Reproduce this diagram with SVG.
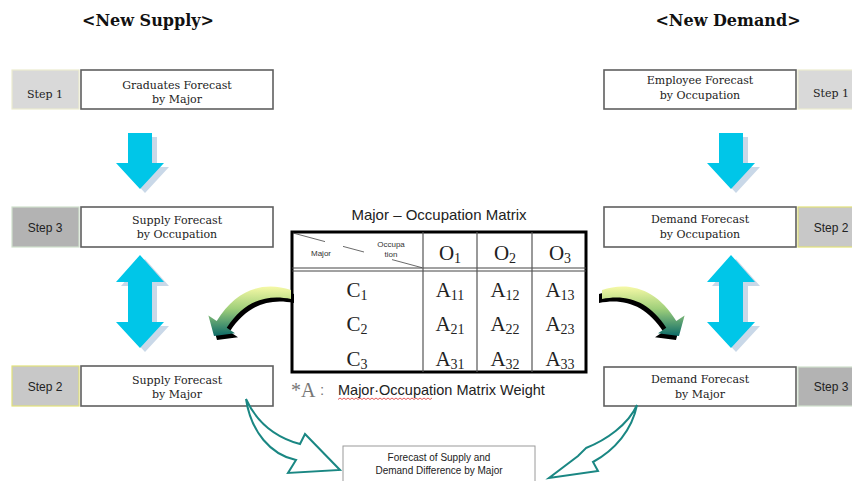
<svg xmlns="http://www.w3.org/2000/svg" width="852" height="481" viewBox="0 0 852 481">
<style>
.title{font-family:"DejaVu Serif",serif;font-weight:bold;font-size:16px;fill:#111}
.box{fill:#fff;stroke:#5f5f5f;stroke-width:1.6}
.lbl{font-family:"DejaVu Serif",serif;font-size:11px;fill:#222;text-anchor:middle}
.stepserif{font-family:"DejaVu Serif",serif;font-size:11px;fill:#222;text-anchor:middle}
.stepsans{font-family:"Liberation Sans",Arial,sans-serif;font-size:12px;fill:#222;text-anchor:middle}
.s1{fill:#d9d9d9;stroke:#ecebcf;stroke-width:1.2}
.s2{fill:#c8c8c8;stroke:#e2e27a;stroke-width:1.2}
.s3{fill:#b3b3b3;stroke:#cfe0cc;stroke-width:1.2}
.blue{fill:#00c6e8}
.bshadow{fill:#c9d8e8}
.mx{font-family:"Liberation Serif","Times New Roman",serif;font-size:21px;fill:#222;text-anchor:middle}
.sub{font-size:14px}
.hd{font-family:"Liberation Sans",Arial,sans-serif;font-size:8px;fill:#333;text-anchor:middle}
.sans{font-family:"Liberation Sans",Arial,sans-serif;fill:#222}
.teal{fill:#fff;stroke:#1a8783;stroke-width:2;stroke-linejoin:miter}
</style>
<defs>
<linearGradient id="grn" x1="0" y1="0" x2="0" y2="1">
<stop offset="0" stop-color="#f6f9a6"/>
<stop offset="0.45" stop-color="#9fcf7a"/>
<stop offset="1" stop-color="#0d6b68"/>
</linearGradient>
<path id="down" d="M0,0 h24 v30 h12 l-24,26 l-24,-26 h12 z"/>
<path id="dbl" d="M12,0 l24,27 h-12 v40 h12 l-24,26 l-24,-26 h12 v-40 h-12 z"/>
<path id="swoosh" d="M291,290 C264,281 236,289 216.7,321.1 L208.4,315.6 L214,336 L235,333.2 L226.7,327.7 C244,301 266,294 291,299 Z"/>
</defs>

<rect width="852" height="481" fill="#fff"/>

<g id="title-supply"><text class="title" x="148" y="26" text-anchor="middle">&lt;New Supply&gt;</text></g>
<g id="title-demand"><text class="title" x="728" y="26" text-anchor="middle">&lt;New Demand&gt;</text></g>

<g id="supply-step1">
<rect class="s1" x="12" y="70" width="67" height="39"/>
<text class="stepserif" x="45" y="98">Step 1</text>
<rect class="box" x="81" y="70" width="192" height="39"/>
<text class="lbl" x="177" y="89">Graduates Forecast</text>
<text class="lbl" x="177" y="103">by Major</text>
</g>
<g id="supply-step3">
<rect class="s3" x="12" y="207" width="67" height="40"/>
<text class="stepsans" x="45" y="232">Step 3</text>
<rect class="box" x="81" y="207" width="192" height="40"/>
<text class="lbl" x="177" y="224">Supply Forecast</text>
<text class="lbl" x="177" y="238">by Occupation</text>
</g>
<g id="supply-step2">
<rect class="s2" x="12" y="366" width="67" height="40"/>
<text class="stepsans" x="45" y="391">Step 2</text>
<rect class="box" x="81" y="366" width="192" height="40"/>
<text class="lbl" x="177" y="384">Supply Forecast</text>
<text class="lbl" x="177" y="398">by Major</text>
</g>

<g id="demand-step1">
<rect class="box" x="604" y="70" width="192" height="39"/>
<text class="lbl" x="700" y="84">Employee Forecast</text>
<text class="lbl" x="700" y="99">by Occupation</text>
<rect class="s1" x="798" y="70" width="67" height="39"/>
<text class="stepserif" x="831" y="97">Step 1</text>
</g>
<g id="demand-step2">
<rect class="box" x="604" y="207" width="192" height="40"/>
<text class="lbl" x="700" y="223">Demand Forecast</text>
<text class="lbl" x="700" y="238">by Occupation</text>
<rect class="s2" x="798" y="207" width="67" height="40"/>
<text class="stepsans" x="831" y="232">Step 2</text>
</g>
<g id="demand-step3">
<rect class="box" x="604" y="367" width="192" height="39"/>
<text class="lbl" x="700" y="383">Demand Forecast</text>
<text class="lbl" x="700" y="398">by Major</text>
<rect class="s3" x="798" y="367" width="67" height="39"/>
<text class="stepsans" x="831" y="391">Step 3</text>
</g>

<g id="matrix">
<text class="sans" x="439" y="220" font-size="15" text-anchor="middle">Major – Occupation Matrix</text>
<rect x="292" y="232" width="294" height="140" fill="#fff" stroke="#000" stroke-width="3"/>
<line x1="292" y1="268" x2="586" y2="268" stroke="#444" stroke-width="1"/>
<line x1="292" y1="271" x2="586" y2="271" stroke="#444" stroke-width="1"/>
<line x1="423" y1="232" x2="423" y2="372" stroke="#555" stroke-width="1.2"/>
<line x1="477" y1="232" x2="477" y2="372" stroke="#555" stroke-width="1.2"/>
<line x1="532" y1="232" x2="532" y2="372" stroke="#555" stroke-width="1.2"/>
<g stroke="#444" stroke-width="0.8">
<line x1="293" y1="233" x2="325" y2="241.6"/>
<line x1="343" y1="246.4" x2="364" y2="252"/>
<line x1="392" y1="259.6" x2="422" y2="267.7"/>
</g>
<text class="hd" x="321" y="256">Major</text>
<text class="hd" x="391" y="247">Occupa</text>
<text class="hd" x="391" y="257">tion</text>
<text class="mx" x="450" y="260">O<tspan class="sub" dy="3">1</tspan></text>
<text class="mx" x="505" y="260">O<tspan class="sub" dy="3">2</tspan></text>
<text class="mx" x="560" y="260">O<tspan class="sub" dy="3">3</tspan></text>
<text class="mx" x="357" y="297">C<tspan class="sub" dy="3">1</tspan></text>
<text class="mx" x="357" y="331">C<tspan class="sub" dy="3">2</tspan></text>
<text class="mx" x="357" y="366">C<tspan class="sub" dy="3">3</tspan></text>
<text class="mx" x="450" y="297">A<tspan class="sub" dy="3">11</tspan></text>
<text class="mx" x="505" y="297">A<tspan class="sub" dy="3">12</tspan></text>
<text class="mx" x="560" y="297">A<tspan class="sub" dy="3">13</tspan></text>
<text class="mx" x="450" y="331">A<tspan class="sub" dy="3">21</tspan></text>
<text class="mx" x="505" y="331">A<tspan class="sub" dy="3">22</tspan></text>
<text class="mx" x="560" y="331">A<tspan class="sub" dy="3">23</tspan></text>
<text class="mx" x="450" y="366">A<tspan class="sub" dy="3">31</tspan></text>
<text class="mx" x="505" y="366">A<tspan class="sub" dy="3">32</tspan></text>
<text class="mx" x="560" y="366">A<tspan class="sub" dy="3">33</tspan></text>
</g>

<g id="note">
<text x="291" y="397" font-family="Liberation Serif,serif" font-size="20" fill="#777">*A</text>
<text x="320" y="395" font-family="Liberation Sans,'Noto Sans CJK KR',sans-serif" font-size="15" fill="#777">:</text>
<text class="sans" x="338" y="395" font-size="14.5">Major·Occupation Matrix Weight</text>
<path d="M338,399.5 l2,-1.5 l2,1.5 l2,-1.5 l2,1.5 l2,-1.5 l2,1.5 l2,-1.5 l2,1.5 l2,-1.5 l2,1.5 l2,-1.5 l2,1.5 l2,-1.5 l2,1.5 l2,-1.5 l2,1.5 l2,-1.5 l2,1.5 l2,-1.5 l2,1.5 l2,-1.5 l2,1.5 l2,-1.5 l2,1.5 l2,-1.5 l2,1.5 l2,-1.5 l2,1.5 l2,-1.5 l2,1.5 l2,-1.5 l2,1.5 l2,-1.5 l2,1.5 l2,-1.5 l2,1.5 l2,-1.5 l2,1.5 l2,-1.5 l2,1.5 l2,-1.5 l2,1.5 l2,-1.5 l2,1.5 l2,-1.5 l2,1.5 l2,-1.5" fill="none" stroke="#e03030" stroke-width="0.8"/>
</g>

<g id="result">
<rect x="343" y="446" width="192" height="40" fill="#fff" stroke="#9a9a9a" stroke-width="1"/>
<text class="sans" x="439" y="461" font-size="10" text-anchor="middle" fill="#333">Forecast of Supply and</text>
<text class="sans" x="439" y="474" font-size="10" text-anchor="middle" fill="#333">Demand Difference by Major</text>
</g>

<g id="connectors">
<use href="#down" class="bshadow" x="133" y="137"/>
<use href="#down" class="blue" x="128" y="133"/>
<use href="#down" class="bshadow" x="724" y="137"/>
<use href="#down" class="blue" x="719" y="133"/>
<use href="#dbl" class="bshadow" x="133" y="259"/>
<use href="#dbl" class="blue" x="128" y="255"/>
<use href="#dbl" class="bshadow" x="724" y="259"/>
<use href="#dbl" class="blue" x="719" y="255"/>
<g id="green-left">
<use href="#swoosh" fill="#000" transform="translate(3,4)"/>
<use href="#swoosh" fill="url(#grn)"/>
</g>
<g id="green-right" transform="translate(893,0) scale(-1,1)">
<use href="#swoosh" fill="#000" transform="translate(3,4)"/>
<use href="#swoosh" fill="url(#grn)"/>
</g>
<path class="teal" d="M246,399 C258,425 278,438 300,444 L305,434 L340,470 L288,473 L296,460 C271,455 251,432 246,399 Z"/>
<path class="teal" d="M637,405 C628,425 606,440 586,448 L578,456 L549,478 L598,471 L593,462 C615,450 632,430 637,405 Z"/>
</g>
</svg>
